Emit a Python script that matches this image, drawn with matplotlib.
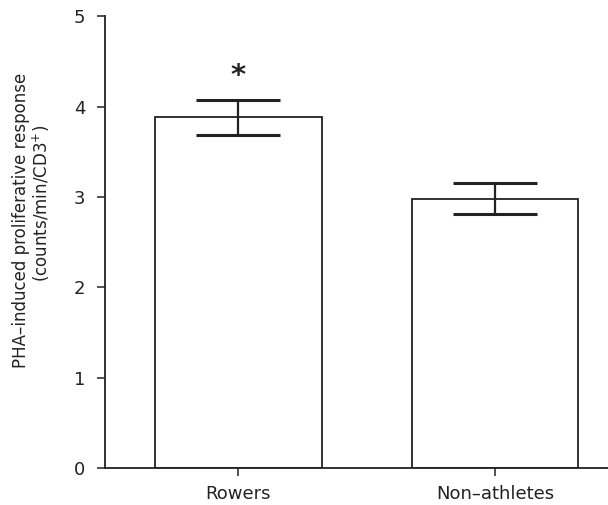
import numpy as np
import matplotlib.pyplot as plt

plt.rcParams['font.family'] = ['DejaVu Sans']

groups = ['Rowers', 'Non\u2013athletes']
means = [3.88, 2.98]
errors = [0.19, 0.17]
marks = ['*', '']

fig = plt.figure(figsize=(6.08, 5.05), dpi=100)
ax = fig.add_axes([0.1727, 0.0733, 0.8273, 0.8947])

x = np.arange(len(groups))
ax.bar(x, means, width=0.65, color='white', edgecolor='#222222', linewidth=1.3, zorder=2)
ax.errorbar(x, means, yerr=errors, fmt='none', ecolor='#222222', elinewidth=1.6,
            capsize=30, capthick=2.2, zorder=3)
for xi, m, e, s in zip(x, means, errors, marks):
    if s:
        ax.text(xi, m + e + 0.27, s, ha='center', va='center', fontsize=21,
                fontweight='bold', color='#222222')

ax.set_xlim(-0.52, 1.44)
ax.set_ylim(0, 5)
ax.set_yticks(range(6))
ax.set_xticks(x)
ax.set_xticklabels(groups)
ax.spines['top'].set_visible(False)
ax.spines['right'].set_visible(False)
for sp in ['left', 'bottom']:
    ax.spines[sp].set_linewidth(1.3)
    ax.spines[sp].set_color('#222222')
ax.tick_params(axis='both', direction='out', length=6, width=1.1, colors='#222222',
               labelsize=13, pad=5)
ax.tick_params(axis='y', pad=8)
ax.tick_params(axis='x', pad=6)

# two-line y label, placed line by line
fig.text(21 / 608, 1 - 220 / 505, 'PHA\u2013induced proliferative response',
         rotation=90, ha='center', va='center', fontsize=12, color='#222222')
fig.text(41 / 608, 1 - 203 / 505, '(counts/min/CD3$^{+}$)',
         rotation=90, ha='center', va='center', fontsize=12, color='#222222')

fig.savefig('out.png', dpi=100)
